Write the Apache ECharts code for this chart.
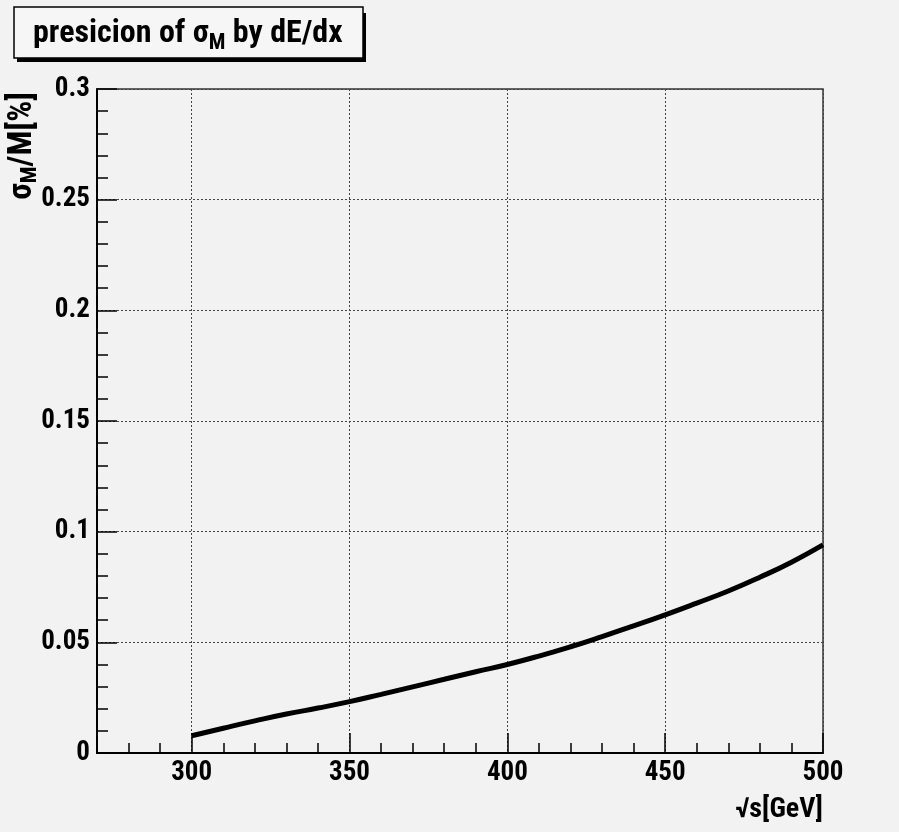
<!DOCTYPE html>
<html>
<head>
<meta charset="utf-8">
<script src="https://cdn.jsdelivr.net/npm/echarts@6/dist/echarts.min.js"></script>
<style>
html,body{margin:0;padding:0;background:#f2f2f2;}
#c{width:899px;height:832px;}
</style>
</head>
<body>
<div id="c"></div>
<script>
const energies = [300,310,320,330,340,350,360,370,380,390,400,410,420,430,440,450,460,470,480,490,500];
const sigmaM = [0.0078,0.0112,0.0145,0.0176,0.0203,0.0232,0.0265,0.0299,0.0333,0.0367,0.0400,0.0438,0.0480,0.0526,0.0574,0.0624,0.0677,0.0732,0.0794,0.0862,0.0940];
const xMajorTicks = [300,350,400,450,500];
const xRange = [270,500];
const yRange = [0,0.3];

const FONT = '"Roboto Condensed","Open Sans Condensed","Liberation Sans",sans-serif';
const chart = echarts.init(document.getElementById('c'));
const gridRect = {left:97, top:89, right:76, bottom:79};
const dotted = {color:'#444', width:1, type:[2,2]};

chart.setOption({
  backgroundColor:'#f2f2f2',
  animation:false,
  graphic:[{
    type:'rect', left:17, top:13, z:-1, silent:true,
    shape:{width:349, height:49},
    style:{fill:'#000'}
  }],
  title:{
    text:'presicion of σ{sub|M} by dE/dx',
    left:14, top:10,
    padding:[7,21,4,19],
    backgroundColor:'#f6f6f6',
    borderColor:'#000', borderWidth:1.5,
    textStyle:{
      fontFamily:FONT, fontWeight:'bold', fontSize:32, color:'#000', lineHeight:34,
      rich:{ sub:{fontFamily:FONT, fontWeight:'bold', fontSize:22, color:'#000', lineHeight:34, padding:[18,0,0,0]} }
    }
  },
  grid:[
    Object.assign({show:true, borderColor:'#333', borderWidth:1.5, backgroundColor:'transparent'}, gridRect),
    Object.assign({show:false}, gridRect)
  ],
  xAxis:[
    {
      gridIndex:0, type:'value', min:xRange[0], max:xRange[1], interval:10,
      axisLine:{show:true, lineStyle:{color:'#000', width:2}},
      axisTick:{show:true, inside:true, length:10, lineStyle:{color:'#000', width:1.5}},
      axisLabel:{show:false},
      splitLine:{show:false},
      name:'√s[GeV]', nameLocation:'end', nameGap:0, nameMoveOverlap:false,
      nameTextStyle:{fontFamily:FONT, fontWeight:'bold', fontSize:28, color:'#000', align:'right', verticalAlign:'top', padding:[43,0,0,0]}
    },
    {
      gridIndex:1, type:'value', min:xRange[0], max:xRange[1], interval:10,
      axisLine:{show:false},
      axisTick:{show:true, inside:true, length:20, customValues:xMajorTicks, lineStyle:{color:'#000', width:1.5}},
      axisLabel:{show:true, customValues:xMajorTicks, margin:7, fontFamily:FONT, fontWeight:'bold', fontSize:27, color:'#000'},
      splitLine:{show:true, lineStyle:dotted}
    }
  ],
  yAxis:[
    {
      gridIndex:0, type:'value', min:yRange[0], max:yRange[1], interval:0.05,
      axisLine:{show:true, lineStyle:{color:'#000', width:2}},
      axisTick:{show:true, inside:true, length:20, lineStyle:{color:'#000', width:1.5}},
      minorTick:{show:true, splitNumber:5, length:11, lineStyle:{color:'#000', width:1.5}},
      axisLabel:{margin:7, fontFamily:FONT, fontWeight:'bold', fontSize:27, color:'#000'},
      splitLine:{show:true, lineStyle:dotted},
      name:'σ{sub|M}/M[%]', nameLocation:'end', nameGap:-3, nameRotate:90, nameMoveOverlap:false,
      nameTextStyle:{fontFamily:FONT, fontWeight:'bold', fontSize:33, color:'#000', align:'right', verticalAlign:'bottom', padding:[0,0,56,0],
        rich:{sub:{fontFamily:FONT, fontWeight:'bold', fontSize:22, color:'#000', padding:[14,0,0,0]}}}
    },
    {
      gridIndex:1, type:'value', min:yRange[0], max:yRange[1], show:false
    }
  ],
  series:[{
    type:'line', xAxisIndex:0, yAxisIndex:0,
    data: energies.map((e,i)=>[e, sigmaM[i]]),
    showSymbol:false, smooth:true,
    lineStyle:{color:'#000', width:5},
    z:5
  }]
});
</script>
</body>
</html>
